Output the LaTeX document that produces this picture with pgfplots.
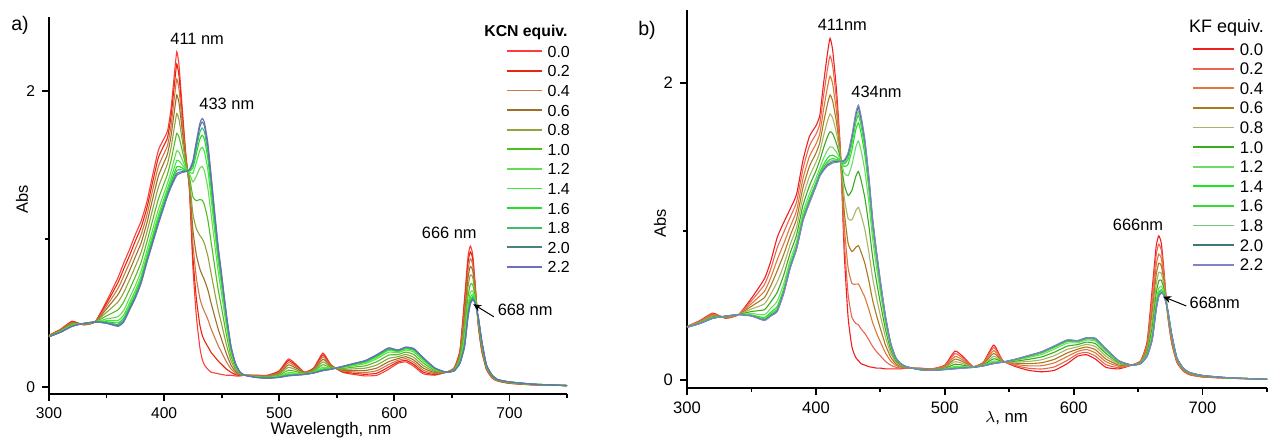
\documentclass[border=0pt]{standalone}
\usepackage{fontspec}
\setmainfont{Liberation Sans}
\usepackage{pgfplots}
\usepackage{pgfplotstable}
\pgfplotsset{compat=1.18}
\usetikzlibrary{arrows.meta}

\definecolor{ca0}{RGB}{255,60,60}
\definecolor{ca1}{RGB}{230,40,10}
\definecolor{ca2}{RGB}{205,120,70}
\definecolor{ca3}{RGB}{160,110,40}
\definecolor{ca4}{RGB}{150,160,60}
\definecolor{ca5}{RGB}{80,190,30}
\definecolor{ca6}{RGB}{100,220,80}
\definecolor{ca7}{RGB}{60,235,60}
\definecolor{ca8}{RGB}{40,220,40}
\definecolor{ca9}{RGB}{60,190,110}
\definecolor{ca10}{RGB}{70,130,130}
\definecolor{ca11}{RGB}{110,110,190}

\definecolor{cb0}{RGB}{240,30,30}
\definecolor{cb1}{RGB}{235,100,80}
\definecolor{cb2}{RGB}{220,120,60}
\definecolor{cb3}{RGB}{170,120,30}
\definecolor{cb4}{RGB}{170,180,100}
\definecolor{cb5}{RGB}{60,170,30}
\definecolor{cb6}{RGB}{110,220,100}
\definecolor{cb7}{RGB}{30,230,30}
\definecolor{cb8}{RGB}{50,220,50}
\definecolor{cb9}{RGB}{110,200,130}
\definecolor{cb10}{RGB}{60,120,120}
\definecolor{cb11}{RGB}{130,130,200}

\pgfplotstableread{
w s0 s1 s2 s3 s4 s5 s6 s7 s8 s9 s10 s11
300 0.35 0.349 0.348 0.347 0.345 0.343 0.342 0.341 0.341 0.340 0.340 0.340
310 0.39 0.388 0.386 0.383 0.380 0.377 0.374 0.372 0.371 0.371 0.370 0.370
320 0.445 0.442 0.437 0.433 0.428 0.422 0.417 0.414 0.413 0.411 0.410 0.410
330 0.42 0.421 0.422 0.424 0.425 0.427 0.428 0.429 0.429 0.430 0.430 0.430
340 0.44 0.44 0.44 0.44 0.44 0.44 0.44 0.44 0.44 0.44 0.44 0.44
350 0.58 0.565 0.547 0.528 0.505 0.481 0.46 0.448 0.441 0.436 0.432 0.43
360 0.74 0.707 0.667 0.625 0.575 0.522 0.476 0.45 0.433 0.423 0.415 0.41
365 0.84 0.80 0.752 0.70 0.64 0.576 0.52 0.488 0.468 0.456 0.446 0.44
370 0.93 0.889 0.84 0.787 0.725 0.659 0.602 0.569 0.549 0.536 0.526 0.52
375 1.03 0.987 0.935 0.88 0.815 0.746 0.686 0.652 0.63 0.617 0.606 0.60
380 1.12 1.078 1.028 0.973 0.91 0.843 0.784 0.75 0.729 0.717 0.706 0.70
385 1.25 1.209 1.16 1.107 1.045 0.979 0.922 0.889 0.869 0.856 0.846 0.84
390 1.43 1.384 1.329 1.269 1.20 1.126 1.062 1.025 1.002 0.988 0.977 0.97
395 1.60 1.55 1.49 1.425 1.35 1.27 1.20 1.16 1.135 1.12 1.108 1.10
400 1.68 1.634 1.579 1.519 1.45 1.376 1.312 1.275 1.252 1.238 1.227 1.22
403 1.73 1.686 1.633 1.576 1.51 1.44 1.378 1.343 1.321 1.308 1.297 1.29
406 1.88 1.827 1.763 1.695 1.615 1.53 1.456 1.414 1.387 1.371 1.358 1.35
409 2.12 2.048 1.962 1.868 1.76 1.645 1.544 1.486 1.45 1.429 1.411 1.40
411 2.265 2.182 2.081 1.973 1.848 1.714 1.597 1.53 1.488 1.463 1.443 1.43
413 2.17 2.097 2.009 1.915 1.805 1.688 1.586 1.528 1.491 1.469 1.451 1.44
416 1.86 1.819 1.77 1.717 1.655 1.589 1.532 1.499 1.479 1.466 1.456 1.45
419 1.56 1.55 1.537 1.523 1.508 1.491 1.476 1.468 1.462 1.459 1.457 1.455
422 1.33 1.344 1.361 1.379 1.40 1.422 1.442 1.453 1.46 1.464 1.468 1.47
425 0.81 0.882 0.968 1.062 1.17 1.285 1.386 1.444 1.48 1.501 1.519 1.53
428 0.48 0.598 0.74 0.893 1.07 1.259 1.424 1.518 1.577 1.613 1.642 1.66
431 0.27 0.421 0.602 0.799 1.025 1.267 1.478 1.599 1.674 1.72 1.757 1.78
433 0.19 0.353 0.548 0.759 1.003 1.263 1.49 1.62 1.701 1.75 1.791 1.815
435 0.15 0.314 0.511 0.724 0.97 1.232 1.462 1.593 1.675 1.724 1.765 1.79
438 0.12 0.273 0.457 0.656 0.885 1.13 1.344 1.466 1.543 1.589 1.627 1.65
441 0.10 0.232 0.39 0.562 0.76 0.971 1.156 1.262 1.328 1.367 1.40 1.42
444 0.095 0.204 0.334 0.475 0.638 0.811 0.963 1.05 1.104 1.137 1.164 1.18
447 0.09 0.176 0.279 0.391 0.52 0.658 0.778 0.847 0.89 0.916 0.937 0.95
450 0.085 0.153 0.234 0.321 0.423 0.531 0.625 0.679 0.713 0.733 0.75 0.76
454 0.08 0.122 0.172 0.227 0.29 0.357 0.416 0.45 0.471 0.483 0.494 0.50
458 0.08 0.10 0.124 0.15 0.18 0.212 0.24 0.256 0.266 0.272 0.277 0.28
462 0.075 0.084 0.094 0.105 0.118 0.131 0.143 0.15 0.154 0.157 0.159 0.16
466 0.075 0.078 0.081 0.084 0.088 0.092 0.095 0.097 0.098 0.099 0.10 0.10
470 0.08 0.08 0.08 0.08 0.08 0.08 0.08 0.08 0.08 0.08 0.08 0.08
480 0.08 0.079 0.077 0.075 0.073 0.07 0.068 0.067 0.066 0.066 0.065 0.065
490 0.08 0.078 0.076 0.073 0.07 0.067 0.064 0.062 0.061 0.061 0.06 0.06
500 0.11 0.106 0.10 0.094 0.088 0.08 0.074 0.07 0.068 0.067 0.066 0.065
508 0.19 0.179 0.165 0.15 0.133 0.114 0.098 0.089 0.083 0.08 0.077 0.075
515 0.15 0.143 0.135 0.126 0.115 0.104 0.094 0.088 0.085 0.083 0.081 0.08
522 0.10 0.099 0.097 0.095 0.093 0.09 0.088 0.087 0.086 0.086 0.085 0.085
530 0.13 0.127 0.122 0.118 0.113 0.107 0.102 0.099 0.097 0.096 0.095 0.095
538 0.23 0.218 0.204 0.188 0.17 0.151 0.134 0.124 0.118 0.115 0.112 0.11
545 0.15 0.147 0.143 0.14 0.135 0.13 0.126 0.124 0.122 0.121 0.12 0.12
555 0.10 0.104 0.109 0.114 0.12 0.126 0.132 0.135 0.137 0.138 0.139 0.14
565 0.085 0.093 0.102 0.111 0.123 0.135 0.145 0.151 0.155 0.157 0.159 0.16
575 0.075 0.086 0.098 0.112 0.128 0.144 0.159 0.167 0.173 0.176 0.178 0.18
585 0.08 0.094 0.111 0.129 0.15 0.172 0.192 0.203 0.21 0.214 0.218 0.22
595 0.12 0.135 0.152 0.171 0.193 0.216 0.236 0.248 0.255 0.259 0.263 0.265
603 0.16 0.169 0.18 0.192 0.205 0.219 0.232 0.239 0.244 0.246 0.249 0.25
610 0.17 0.18 0.192 0.205 0.22 0.236 0.25 0.258 0.263 0.266 0.269 0.27
617 0.14 0.152 0.166 0.182 0.20 0.219 0.236 0.246 0.252 0.255 0.258 0.26
625 0.09 0.101 0.114 0.129 0.145 0.163 0.178 0.187 0.192 0.196 0.198 0.20
635 0.08 0.085 0.091 0.098 0.105 0.113 0.12 0.124 0.127 0.128 0.129 0.13
645 0.10 0.10 0.10 0.10 0.10 0.10 0.10 0.10 0.10 0.10 0.10 0.10
652 0.13 0.128 0.126 0.123 0.12 0.117 0.114 0.112 0.111 0.111 0.11 0.11
657 0.25 0.241 0.23 0.219 0.205 0.191 0.178 0.171 0.166 0.164 0.161 0.16
661 0.60 0.567 0.527 0.485 0.435 0.382 0.336 0.31 0.293 0.283 0.275 0.27
664 0.88 0.839 0.79 0.737 0.675 0.609 0.552 0.519 0.499 0.486 0.476 0.47
666 0.953 0.914 0.867 0.815 0.757 0.694 0.639 0.607 0.588 0.576 0.566 0.56
668 0.90 0.869 0.831 0.791 0.744 0.694 0.65 0.625 0.61 0.60 0.593 0.588
670 0.72 0.705 0.687 0.668 0.645 0.621 0.60 0.588 0.581 0.576 0.572 0.57
673 0.41 0.416 0.423 0.431 0.44 0.45 0.458 0.463 0.466 0.468 0.469 0.47
676 0.24 0.247 0.255 0.265 0.275 0.286 0.296 0.302 0.305 0.307 0.309 0.31
680 0.12 0.123 0.127 0.131 0.135 0.14 0.144 0.146 0.148 0.149 0.15 0.15
685 0.06 0.062 0.064 0.067 0.07 0.073 0.076 0.078 0.079 0.079 0.08 0.08
690 0.04 0.041 0.042 0.044 0.045 0.047 0.048 0.049 0.049 0.05 0.05 0.05
700 0.025 0.026 0.027 0.029 0.03 0.032 0.033 0.034 0.034 0.035 0.035 0.035
720 0.015 0.015 0.016 0.017 0.018 0.018 0.019 0.019 0.02 0.02 0.02 0.02
750 0.01 0.01 0.01 0.01 0.01 0.01 0.01 0.01 0.01 0.01 0.01 0.01
}\tabA

\pgfplotstableread{
w s0 s1 s2 s3 s4 s5 s6 s7 s8 s9 s10 s11
300 0.36 0.359 0.358 0.358 0.357 0.356 0.356 0.355 0.355 0.355 0.355 0.355
310 0.40 0.397 0.394 0.391 0.388 0.385 0.383 0.381 0.381 0.381 0.38 0.38
320 0.45 0.445 0.44 0.434 0.429 0.424 0.42 0.417 0.416 0.416 0.415 0.415
330 0.415 0.417 0.42 0.422 0.424 0.426 0.428 0.429 0.429 0.43 0.43 0.43
340 0.44 0.44 0.44 0.44 0.44 0.44 0.44 0.44 0.44 0.44 0.44 0.44
350 0.55 0.533 0.514 0.496 0.478 0.461 0.447 0.438 0.435 0.433 0.431 0.43
360 0.68 0.641 0.596 0.554 0.512 0.473 0.439 0.42 0.411 0.407 0.403 0.40
365 0.80 0.748 0.689 0.634 0.578 0.526 0.482 0.456 0.445 0.439 0.434 0.43
370 0.96 0.89 0.81 0.735 0.66 0.59 0.53 0.495 0.48 0.473 0.465 0.46
375 1.06 0.993 0.916 0.844 0.772 0.705 0.647 0.614 0.599 0.592 0.585 0.58
380 1.15 1.094 1.03 0.97 0.91 0.854 0.806 0.778 0.766 0.76 0.754 0.75
385 1.25 1.198 1.139 1.084 1.028 0.976 0.932 0.906 0.895 0.889 0.884 0.88
390 1.48 1.423 1.357 1.296 1.234 1.177 1.127 1.099 1.086 1.08 1.074 1.07
395 1.64 1.577 1.505 1.438 1.37 1.307 1.253 1.222 1.208 1.201 1.195 1.19
400 1.71 1.653 1.587 1.526 1.464 1.407 1.357 1.329 1.316 1.31 1.304 1.30
403 1.78 1.723 1.657 1.596 1.534 1.477 1.427 1.399 1.386 1.38 1.374 1.37
406 2.00 1.917 1.823 1.735 1.646 1.563 1.493 1.451 1.434 1.425 1.416 1.41
409 2.20 2.094 1.972 1.858 1.744 1.638 1.546 1.493 1.47 1.459 1.448 1.44
411 2.30 2.181 2.045 1.918 1.79 1.671 1.569 1.51 1.484 1.471 1.459 1.45
413 2.22 2.114 1.992 1.878 1.764 1.658 1.566 1.513 1.49 1.479 1.468 1.46
416 1.95 1.882 1.805 1.732 1.659 1.591 1.533 1.499 1.484 1.477 1.47 1.465
419 1.55 1.539 1.526 1.514 1.502 1.491 1.481 1.476 1.473 1.472 1.471 1.47
422 0.85 0.938 1.039 1.134 1.228 1.316 1.392 1.436 1.455 1.464 1.474 1.48
425 0.42 0.575 0.753 0.92 1.086 1.241 1.375 1.452 1.486 1.502 1.519 1.53
428 0.22 0.42 0.649 0.864 1.078 1.278 1.45 1.55 1.593 1.614 1.636 1.65
431 0.15 0.381 0.645 0.893 1.14 1.371 1.569 1.685 1.734 1.759 1.784 1.80
433 0.13 0.371 0.646 0.904 1.162 1.403 1.609 1.73 1.781 1.807 1.833 1.85
435 0.11 0.344 0.611 0.862 1.112 1.346 1.546 1.663 1.713 1.738 1.763 1.78
438 0.10 0.313 0.556 0.784 1.012 1.225 1.407 1.514 1.559 1.582 1.605 1.62
441 0.09 0.271 0.477 0.671 0.864 1.045 1.199 1.29 1.328 1.348 1.367 1.38
444 0.085 0.226 0.387 0.537 0.688 0.829 0.949 1.02 1.05 1.065 1.08 1.09
447 0.08 0.191 0.317 0.436 0.554 0.665 0.759 0.815 0.838 0.85 0.862 0.87
450 0.08 0.163 0.257 0.346 0.434 0.517 0.587 0.629 0.646 0.655 0.664 0.67
454 0.075 0.125 0.182 0.235 0.288 0.338 0.38 0.405 0.416 0.421 0.427 0.43
458 0.075 0.10 0.128 0.154 0.18 0.205 0.226 0.238 0.243 0.246 0.248 0.25
462 0.075 0.086 0.098 0.109 0.12 0.131 0.14 0.145 0.147 0.148 0.149 0.15
466 0.075 0.08 0.086 0.091 0.096 0.101 0.105 0.108 0.109 0.109 0.11 0.11
470 0.08 0.081 0.083 0.085 0.086 0.087 0.089 0.089 0.09 0.09 0.09 0.09
480 0.08 0.079 0.077 0.076 0.074 0.073 0.071 0.071 0.07 0.07 0.07 0.07
490 0.075 0.074 0.072 0.071 0.069 0.068 0.066 0.066 0.065 0.065 0.065 0.065
500 0.10 0.096 0.091 0.087 0.082 0.078 0.074 0.072 0.071 0.071 0.07 0.07
508 0.195 0.178 0.159 0.141 0.123 0.106 0.092 0.083 0.08 0.078 0.076 0.075
515 0.15 0.14 0.129 0.119 0.108 0.098 0.09 0.085 0.083 0.082 0.081 0.08
522 0.09 0.089 0.089 0.088 0.087 0.086 0.086 0.085 0.085 0.085 0.085 0.085
530 0.12 0.117 0.113 0.109 0.105 0.102 0.099 0.097 0.096 0.096 0.095 0.095
538 0.235 0.218 0.198 0.179 0.16 0.143 0.128 0.119 0.115 0.113 0.111 0.11
545 0.13 0.129 0.127 0.126 0.124 0.123 0.121 0.121 0.12 0.12 0.12 0.12
555 0.09 0.097 0.105 0.113 0.12 0.127 0.133 0.137 0.138 0.139 0.14 0.14
565 0.065 0.079 0.095 0.11 0.125 0.139 0.151 0.158 0.161 0.163 0.164 0.165
575 0.055 0.074 0.096 0.116 0.136 0.155 0.171 0.181 0.185 0.187 0.189 0.19
585 0.065 0.088 0.115 0.139 0.164 0.187 0.207 0.219 0.224 0.226 0.228 0.23
595 0.11 0.132 0.158 0.182 0.206 0.228 0.248 0.259 0.264 0.266 0.268 0.27
603 0.16 0.175 0.192 0.207 0.223 0.238 0.25 0.258 0.261 0.262 0.264 0.265
610 0.17 0.186 0.205 0.222 0.239 0.255 0.269 0.277 0.28 0.282 0.284 0.285
617 0.14 0.16 0.182 0.203 0.224 0.244 0.26 0.27 0.274 0.277 0.279 0.28
625 0.085 0.103 0.123 0.141 0.16 0.178 0.193 0.201 0.205 0.207 0.209 0.21
635 0.075 0.083 0.092 0.10 0.108 0.116 0.122 0.126 0.128 0.129 0.129 0.13
645 0.10 0.10 0.10 0.10 0.10 0.10 0.10 0.10 0.10 0.10 0.10 0.10
652 0.13 0.127 0.124 0.121 0.118 0.115 0.113 0.111 0.111 0.111 0.11 0.11
657 0.26 0.246 0.23 0.215 0.20 0.186 0.174 0.167 0.164 0.163 0.161 0.16
661 0.62 0.571 0.515 0.463 0.41 0.361 0.319 0.295 0.284 0.279 0.274 0.27
664 0.90 0.84 0.771 0.707 0.642 0.582 0.53 0.50 0.487 0.481 0.474 0.47
666 0.97 0.913 0.847 0.786 0.724 0.667 0.617 0.589 0.576 0.57 0.564 0.56
668 0.92 0.873 0.819 0.769 0.718 0.671 0.631 0.608 0.597 0.592 0.587 0.584
670 0.74 0.716 0.689 0.664 0.638 0.614 0.594 0.582 0.577 0.574 0.572 0.57
673 0.43 0.436 0.442 0.448 0.454 0.46 0.464 0.467 0.468 0.469 0.47 0.47
676 0.25 0.258 0.268 0.277 0.286 0.294 0.302 0.306 0.308 0.309 0.309 0.31
680 0.12 0.124 0.129 0.134 0.138 0.142 0.146 0.148 0.149 0.149 0.15 0.15
685 0.06 0.063 0.066 0.069 0.072 0.075 0.077 0.079 0.079 0.08 0.08 0.08
690 0.035 0.037 0.04 0.042 0.044 0.046 0.048 0.049 0.049 0.05 0.05 0.05
700 0.02 0.021 0.023 0.025 0.026 0.027 0.029 0.029 0.03 0.03 0.03 0.03
720 0.012 0.012 0.013 0.013 0.014 0.014 0.015 0.015 0.015 0.015 0.015 0.015
750 0.005 0.005 0.005 0.005 0.005 0.005 0.005 0.005 0.005 0.005 0.005 0.005
}\tabB

\pgfplotsset{
  spec/.style={
    scale only axis, clip=false,
    axis x line*=bottom, axis y line*=left,
    xmin=300, xmax=750,
    xtick={300,400,500,600,700}, minor xtick={350,450,550,650,750},
    ytick={0,2}, minor ytick={1},
    tick align=outside,
    major tick length=3.5pt, minor tick length=2pt,
    axis line style={line width=0.9pt},
    major tick style={line width=0.9pt, black},
    minor tick style={line width=0.9pt, black},
    /pgf/number format/assume math mode=true,
    legend cell align=left,
  }
}

\begin{document}
\begin{tikzpicture}
\useasboundingbox (0,0) rectangle (636pt,220.5pt);
% Panel a
\begin{axis}[spec,
  at={(24.5pt,23.5pt)}, anchor=south west,
  width=259pt, height=188.5pt,
  ymin=-0.047, ymax=2.5,
  tick label style={font=\fontsize{7.8}{9}\selectfont},
  legend image code/.code={\draw[#1, line width=0.9pt] (0pt,0pt) -- (17.5pt,0pt);},
  legend style={at={(axis cs:691.3,2.338)}, anchor=north west, draw=none, fill=none,
    font=\fontsize{8}{9}\selectfont,
    nodes={inner sep=0pt, text height=6pt, text depth=0pt},
    row sep=3.8pt, column sep=2.5pt},
]
\pgfplotsinvokeforeach{0,...,11}{
  \addplot[ca#1, line width=0.55pt, smooth, tension=0.3] table[x=w, y=s#1] {\tabA};
}
\legend{0.0,0.2,0.4,0.6,0.8,1.0,1.2,1.4,1.6,1.8,2.0,2.2}
\node[font=\bfseries\fontsize{7.9}{9}\selectfont] at (axis cs:714.3,2.399) {KCN equiv.};
\node[font=\fontsize{8.2}{9}\selectfont] at (axis cs:428.7,2.35) {411 nm};
\node[font=\fontsize{8.2}{9}\selectfont] at (axis cs:454.5,1.91) {433 nm};
\node[font=\fontsize{8.2}{9}\selectfont] at (axis cs:647.7,1.044) {666 nm};
\node[font=\fontsize{8.2}{9}\selectfont] at (axis cs:713.6,0.52) {668 nm};
\draw[-{Stealth[length=4pt,width=3.5pt]}, line width=0.5pt] (axis cs:686.4,0.475) -- (axis cs:668.6,0.56);
\node[font=\fontsize{8.2}{9}\selectfont, rotate=90] at (axis cs:276.5,1.27) {Abs};
\node[font=\fontsize{8.4}{9}\selectfont] at (axis cs:545,-0.29) {Wavelength, nm};
\node[font=\fontsize{9.8}{10}\selectfont] at (axis cs:274.8,2.446) {a)};
\end{axis}
% Panel b
\begin{axis}[spec,
  at={(343.5pt,26.5pt)}, anchor=south west,
  width=290pt, height=189pt,
  ymin=-0.054, ymax=2.49,
  tick label style={font=\fontsize{8.3}{9}\selectfont},
  legend image code/.code={\draw[#1, line width=0.9pt] (0pt,0pt) -- (20.5pt,0pt);},
  legend style={at={(axis cs:686.8,2.297)}, anchor=north west, draw=none, fill=none,
    font=\fontsize{8.4}{9}\selectfont,
    nodes={inner sep=0pt, text height=6pt, text depth=0pt},
    row sep=3.8pt, column sep=2.5pt},
]
\pgfplotsinvokeforeach{0,...,11}{
  \addplot[cb#1, line width=0.55pt, smooth, tension=0.3] table[x=w, y=s#1] {\tabB};
}
\legend{0.0,0.2,0.4,0.6,0.8,1.0,1.2,1.4,1.6,1.8,2.0,2.2}
\node[font=\fontsize{9}{10}\selectfont] at (axis cs:718.6,2.367) {KF equiv.};
\node[font=\fontsize{8.2}{9}\selectfont] at (axis cs:420.5,2.39) {411nm};
\node[font=\fontsize{8.2}{9}\selectfont] at (axis cs:447,1.94) {434nm};
\node[font=\fontsize{8.2}{9}\selectfont] at (axis cs:649.9,1.044) {666nm};
\node[font=\fontsize{8.2}{9}\selectfont] at (axis cs:709.5,0.516) {668nm};
\draw[-{Stealth[length=4pt,width=3.5pt]}, line width=0.5pt] (axis cs:687.4,0.498) -- (axis cs:669.4,0.561);
\node[font=\fontsize{8.2}{9}\selectfont, rotate=90] at (axis cs:279.1,1.057) {Abs};
\node[font=\fontsize{8.4}{9}\selectfont] at (axis cs:548,-0.259) {$\lambda$, nm};
\node[font=\fontsize{9.8}{10}\selectfont] at (axis cs:269,2.35) {b)};
\end{axis}
\end{tikzpicture}
\end{document}
